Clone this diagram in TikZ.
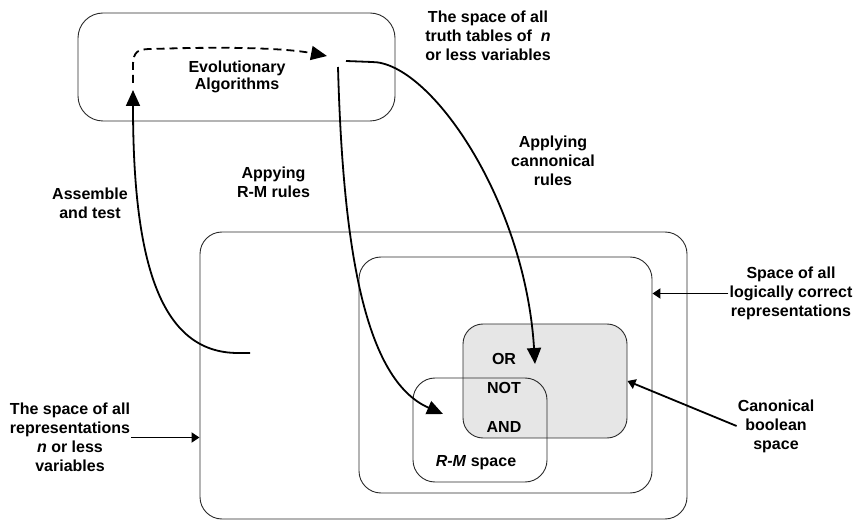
\documentclass[tikz,border=0pt]{standalone}
\usepackage{fontspec}
\setmainfont{Liberation Sans}
\usetikzlibrary{arrows.meta}
\definecolor{boolfill}{HTML}{E6E6E6}
\definecolor{edgegray}{HTML}{2A2A2A}
\begin{document}
\begin{tikzpicture}[x=1pt,y=-1pt,
  region/.style={draw=edgegray, line width=0.9pt, rounded corners=22pt, inner sep=0pt},
  lbl/.style={align=center, inner sep=1pt, font=\bfseries\fontsize{16}{19}\selectfont},
  flow/.style={line width=1.8pt, -{Triangle[length=16pt,width=14pt]}},
  pointer/.style={line width=1.8pt, -{Triangle[length=8pt,width=10pt]}},
  dashflow/.style={flow, dash pattern=on 8pt off 5pt}]
\useasboundingbox (0,0) rectangle (857,521);

% nested spaces
\node[region, minimum width=487pt, minimum height=287pt] (outer) at (443.5,375.5) {};
\node[region, minimum width=293pt, minimum height=236pt] (middle) at (505.5,375) {};
\node[region, fill=boolfill, rounded corners=20pt, minimum width=164pt, minimum height=114pt] (grey) at (545,381) {};
\node[region, minimum width=134pt, minimum height=104pt] (rm) at (480,430) {};

% evolutionary algorithm box
\node[region, rounded corners=25pt, minimum width=317pt, minimum height=108pt] (ea) at (236.5,67) {};

% labels
\node[lbl, font=\bfseries\fontsize{16}{17}\selectfont] (eatxt) at (237,76.5) {Evolutionary\\Algorithms};
\node[lbl] (truth) at (488,36) {The space of all\\truth tables of \ \textit{n}\\or less variables};
\node[lbl] (canrules) at (553,161) {Applying\\cannonical\\rules};
\node[lbl] (rmrules) at (273.5,182.5) {Appying\\R-M rules};
\node[lbl] (assemble) at (90,203) {Assemble\\and test};
\node[lbl] (alllbl) at (70,437.5) {The space of all\\representations\\\textit{n} or less\\variables};
\node[lbl] (logiclbl) at (791,293.5) {Space of all\\logically correct\\representations};
\node[lbl] (canonlbl) at (776,426) {Canonical\\boolean\\space};
\node[lbl] (ortxt) at (504,359) {OR};
\node[lbl] (nottxt) at (504,388) {NOT};
\node[lbl] (andtxt) at (504,427) {AND};
\node[lbl] (rmtxt) at (476,463) {\textit{R-M} space};

% curve end points
\coordinate (asmstart) at (250,353);
\coordinate (eain) at (133,90);
\coordinate (loopstart) at (133,83);
\coordinate (loopend) at (327,56);
\coordinate (rmstart) at (338,67);
\coordinate (rmend) at (443,414);
\coordinate (canstart) at (346,61);
\coordinate (canend) at (535,364);

% assemble and test
\draw[flow] (asmstart) -- (238,353) .. controls (160,353) and (133,262) .. (eain);
% evolutionary loop
\draw[dashflow] (loopstart) -- (133,66) .. controls (133,51) and (138,49) .. (152,49)
  .. controls (240,46) and (290,49) .. (loopend);
% applying R-M rules
\draw[flow] (rmstart) .. controls (343,250) and (365,380) .. (rmend);
% applying canonical rules
\draw[flow] (canstart) -- (372,62) .. controls (430,62) and (525,200) .. (canend);

% label pointers
\draw[pointer] (alllbl.east) -- (alllbl.east -| outer.west);
\draw[pointer] (logiclbl.west) -- (logiclbl.west -| middle.east);
\draw[pointer] (canonlbl.west) -- (grey.east);
\end{tikzpicture}
\end{document}
